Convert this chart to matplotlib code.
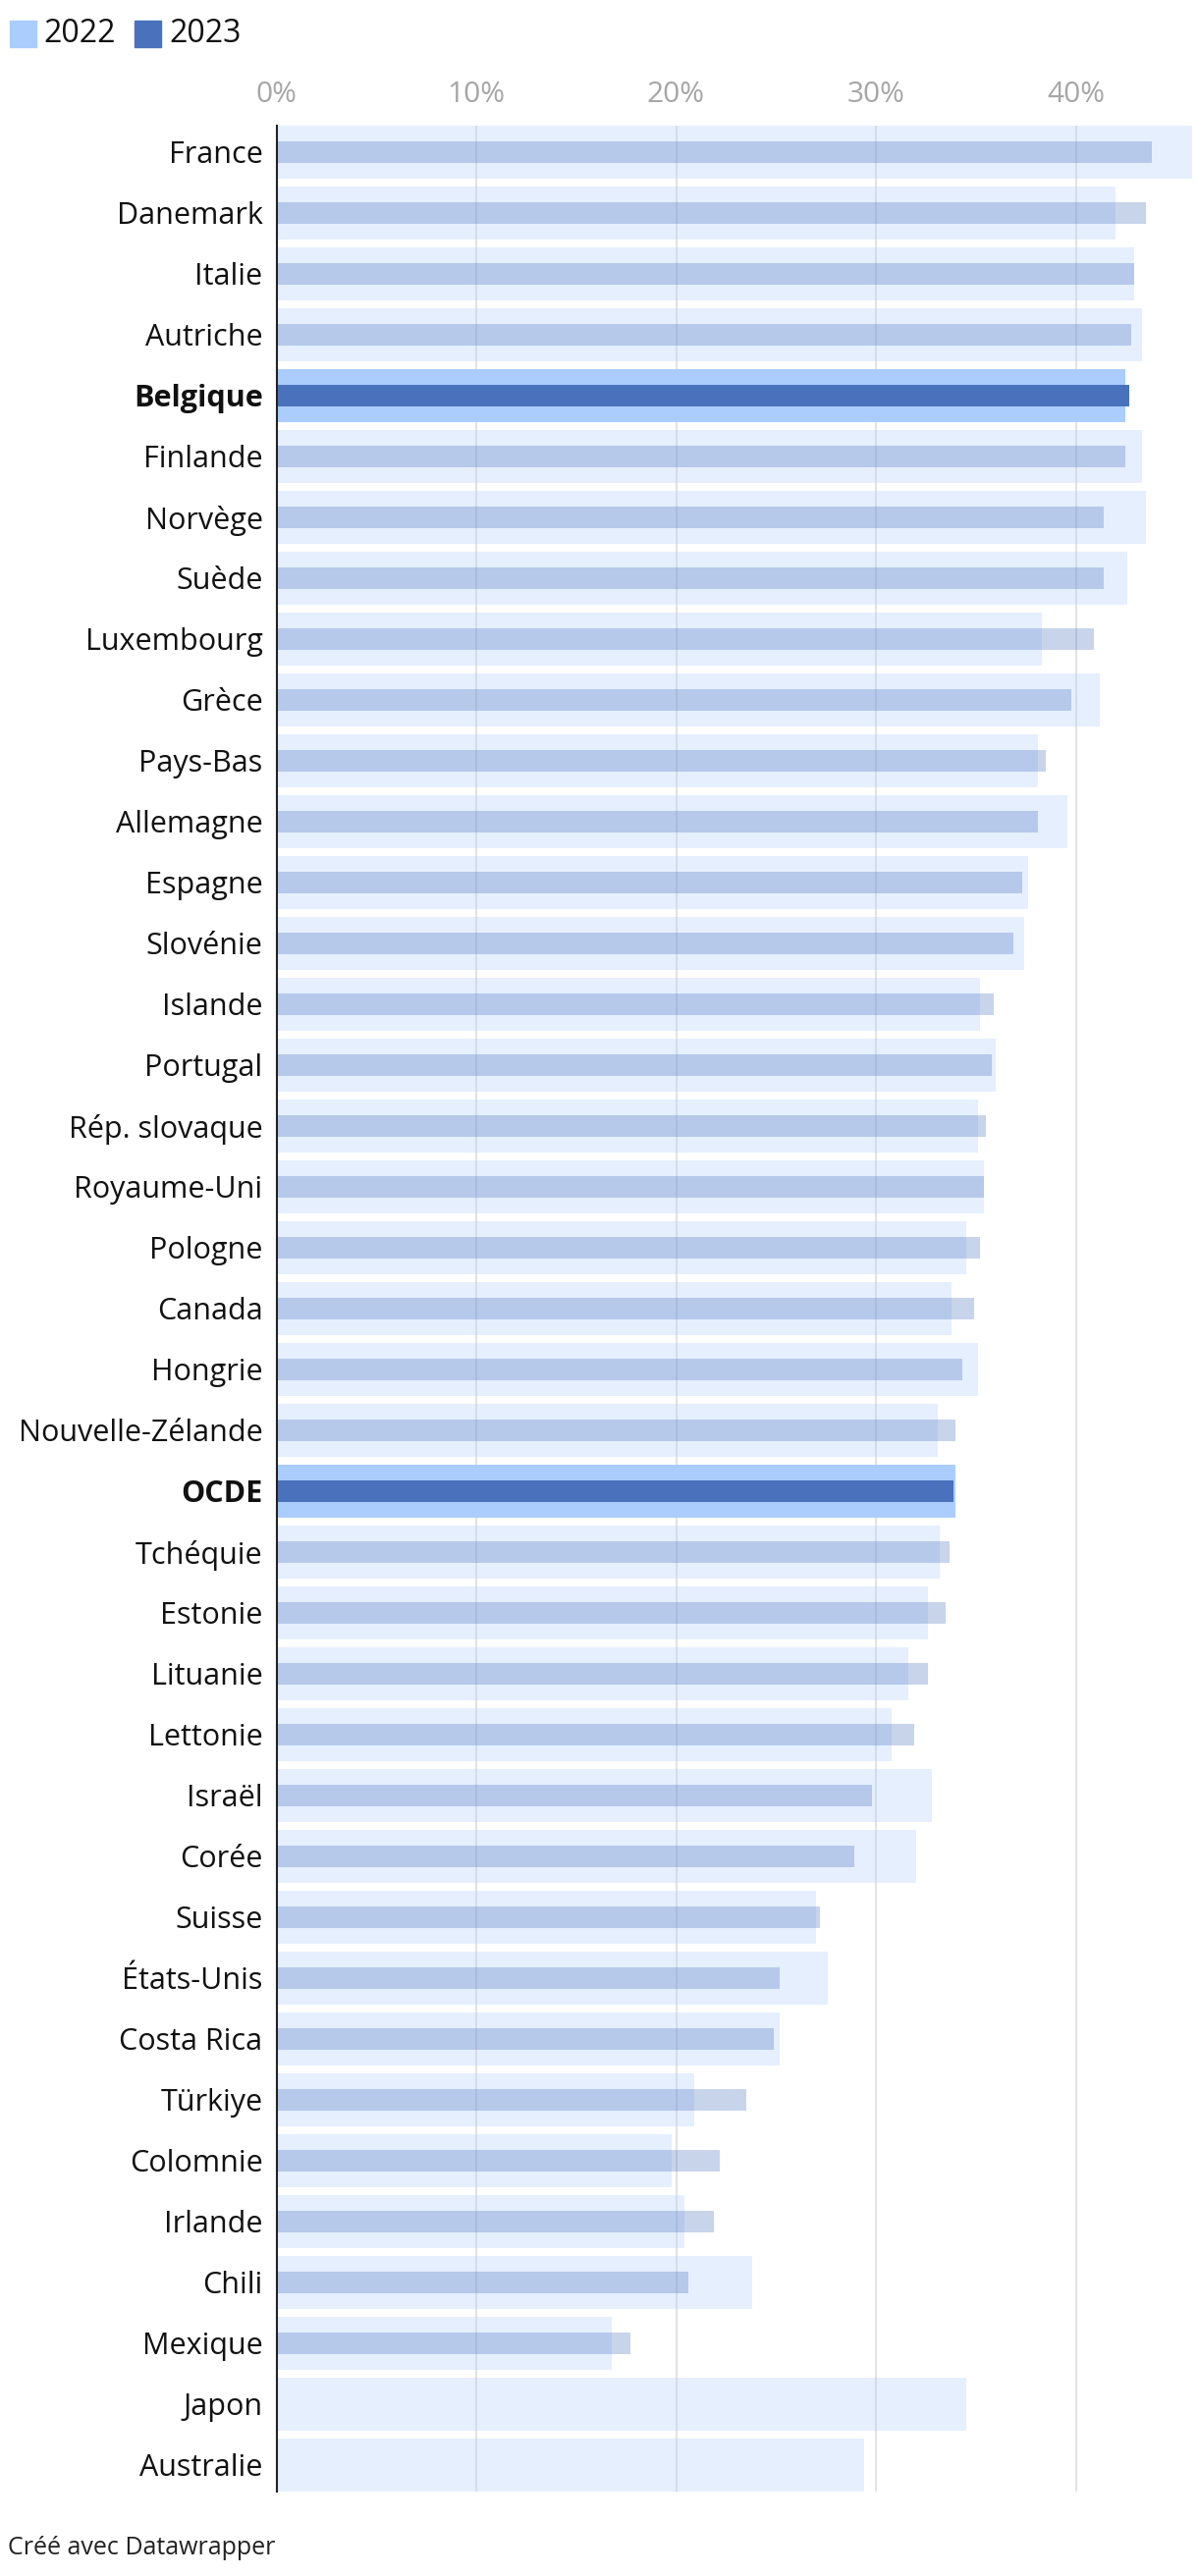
import matplotlib; matplotlib.use("Agg")
import matplotlib.pyplot as plt
import numpy as np

plt.rcParams["font.family"] = ["Open Sans", "DejaVu Sans"]

countries = ["France", "Danemark", "Italie", "Autriche", "Belgique", "Finlande", "Norvège", "Suède",
             "Luxembourg", "Grèce", "Pays-Bas", "Allemagne", "Espagne", "Slovénie", "Islande", "Portugal",
             "Rép. slovaque", "Royaume-Uni", "Pologne", "Canada", "Hongrie", "Nouvelle-Zélande", "OCDE",
             "Tchéquie", "Estonie", "Lituanie", "Lettonie", "Israël", "Corée", "Suisse", "États-Unis",
             "Costa Rica", "Türkiye", "Colomnie", "Irlande", "Chili", "Mexique", "Japon", "Australie"]
v2022 = [45.8, 42.0, 42.9, 43.3, 42.5, 43.3, 43.5, 42.6,
         38.3, 41.2, 38.1, 39.6, 37.6, 37.4, 35.2, 36.0,
         35.1, 35.4, 34.5, 33.8, 35.1, 33.1, 34.0,
         33.2, 32.6, 31.6, 30.8, 32.8, 32.0, 27.0, 27.6,
         25.2, 20.9, 19.8, 20.4, 23.8, 16.8, 34.5, 29.4]
v2023 = [43.8, 43.5, 42.9, 42.8, 42.7, 42.5, 41.4, 41.4,
         40.9, 39.8, 38.5, 38.1, 37.3, 36.9, 35.9, 35.8,
         35.5, 35.4, 35.2, 34.9, 34.3, 34.0, 33.9,
         33.7, 33.5, 32.6, 31.9, 29.8, 28.9, 27.2, 25.2,
         24.9, 23.5, 22.2, 21.9, 20.6, 17.7, np.nan, np.nan]
highlight = ["Belgique", "OCDE"]
ticks = [0, 10, 20, 30, 40]

C22 = "#abcdfd"; C23 = "#4a72bc"
W, H = 1220, 2624
fig = plt.figure(figsize=(W/100, H/100), dpi=100)
x0, x1, ytop, ybot = 281.5, 1220, 128, 2537.7
ax = fig.add_axes([x0/W, 1-ybot/H, (x1-x0)/W, (ybot-ytop)/H])

y = np.arange(len(countries))
hl = np.array([c in highlight for c in countries])
a22 = np.array(v2022); a23 = np.array(v2023)

ax.barh(y[~hl], a22[~hl], height=0.87, color=C22, alpha=0.3, zorder=1, linewidth=0)
ax.barh(y[~hl], a23[~hl], height=0.355, color=C23, alpha=0.3, zorder=1.1, linewidth=0)
ax.barh(y[hl], a22[hl], height=0.87, color=C22, zorder=2, linewidth=0)
ax.barh(y[hl], a23[hl], height=0.355, color=C23, zorder=2.1, linewidth=0)

for t in ticks[1:]:
    ax.axvline(t, color="#e3e3e3", lw=1.4, zorder=0.5)

ax.set_xlim(0, (x1-x0)/20.35)
ax.set_ylim(len(countries)-1+0.435, -0.435)
ax.xaxis.tick_top()
ax.set_xticks(ticks)
ax.set_xticklabels([f"{t}%" for t in ticks], color="#a6a6a6", fontsize=21.5)
ax.tick_params(axis="x", length=0, pad=12)
ax.set_yticks(y)
ax.set_yticklabels(countries, fontsize=22, color="#111111")
ax.tick_params(axis="y", length=0, pad=10)
for lab, h in zip(ax.get_yticklabels(), hl):
    if h: lab.set_fontweight("bold")
for s in ["top", "right", "bottom"]:
    ax.spines[s].set_visible(False)
ax.spines["left"].set_color("#222222"); ax.spines["left"].set_linewidth(1.5)
ax.spines["left"].set_zorder(3)

# legende en haut
fig.patches.append(plt.Rectangle((10/W, 1-48/H), 27/W, 27/H, transform=fig.transFigure, color=C22))
fig.text(44/W, 1-34.5/H, "2022", fontsize=23, va="center", ha="left", color="#111111")
fig.patches.append(plt.Rectangle((137/W, 1-48/H), 27/W, 27/H, transform=fig.transFigure, color=C23))
fig.text(172/W, 1-34.5/H, "2023", fontsize=23, va="center", ha="left", color="#111111")

fig.text(8/W, 1-2596/H, "Créé avec Datawrapper", fontsize=18, va="center", ha="left", color="#222222")

fig.savefig("out.png", dpi=100)
